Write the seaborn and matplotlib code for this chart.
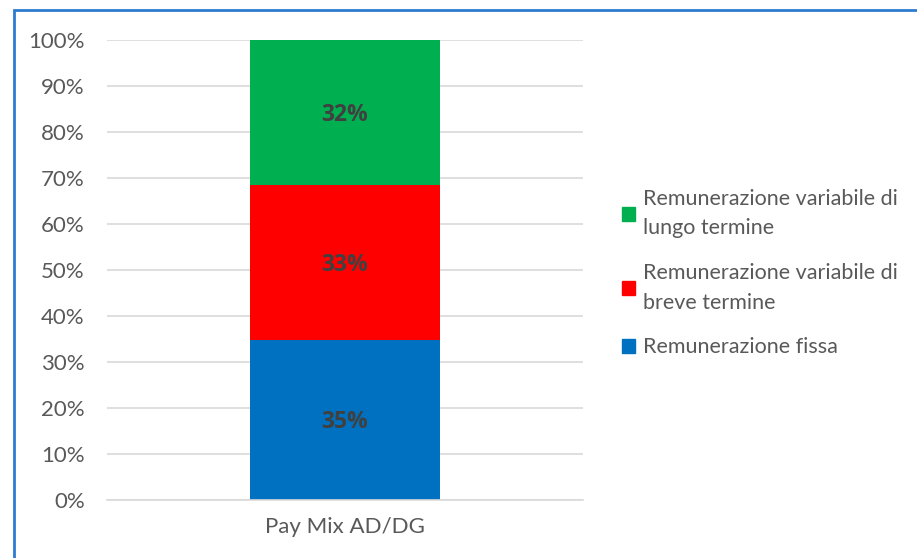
import matplotlib.pyplot as plt
import matplotlib.patches as mpatches
import pandas as pd
import seaborn as sns

# dati
category = "Pay Mix AD/DG"
components = ["Remunerazione fissa",
              "Remunerazione variabile di\nbreve termine",
              "Remunerazione variabile di\nlungo termine"]
shares = [34.8, 33.7, 31.5]
share_labels = ["35%", "33%", "32%"]
colors = ["#0070C0", "#FF0000", "#00B050"]
y_ticks = [0, 10, 20, 30, 40, 50, 60, 70, 80, 90, 100]

sns.set_style("white")
plt.rcParams['font.family'] = ['Lato', 'DejaVu Sans']

text_gray = "#595959"

fig = plt.figure(figsize=(9.17, 5.58), dpi=100)
ax = fig.add_axes([107 / 917, 58 / 558, 476 / 917, 460 / 558])

# altezze cumulate, si disegna dal segmento in alto verso il basso
cum = []
total = 0
for s in shares:
    total += s
    cum.append(total)

for i in reversed(range(len(shares))):
    df = pd.DataFrame({"cat": [category], "val": [cum[i]]})
    sns.barplot(data=df, x="cat", y="val", color=colors[i], width=0.4,
                saturation=1, linewidth=0, ax=ax, zorder=2)

# etichette dei segmenti
bottom = 0
for s, lab in zip(shares, share_labels):
    ax.text(0, bottom + s / 2 - 0.5, lab, ha='center', va='center',
            fontsize=16.5, fontweight='bold', color="#404040", zorder=3,
            family=['Open Sans', 'DejaVu Sans'])
    bottom += s

ax.set_ylim(0, 100)
ax.set_xlim(-0.5, 0.5)
ax.set_yticks(y_ticks)
ax.set_yticklabels([f"{t}%" for t in y_ticks])
ax.yaxis.grid(True, color="#D9D9D9", linewidth=1.2, zorder=0)
ax.set_axisbelow(True)
ax.set_xlabel("")
ax.set_ylabel("")
ax.tick_params(axis='both', length=0, labelsize=16, colors=text_gray)
ax.tick_params(axis='y', pad=16)
ax.tick_params(axis='x', pad=12)
for side in ['top', 'right', 'left']:
    ax.spines[side].set_visible(False)
ax.spines['bottom'].set_color("#D9D9D9")
ax.spines['bottom'].set_linewidth(1.2)

# legenda
handles = [mpatches.Patch(color=colors[i], label=components[i]) for i in [2, 1, 0]]
leg = fig.legend(handles=handles, loc='center left',
                 bbox_to_anchor=(603 / 917, 1 - 273 / 558), frameon=False,
                 fontsize=15.5, handlelength=0.6, handleheight=0.6,
                 handletextpad=0.35, labelspacing=1.15)
for t in leg.get_texts():
    t.set_color(text_gray)
    t.set_linespacing(1.6)

# cornice blu
frame = mpatches.Rectangle((14 / 917, -0.1), 1.2, 1 - 10 / 558 + 0.1,
                           transform=fig.transFigure, fill=False,
                           edgecolor="#2E7BD0", linewidth=2, clip_on=False)
fig.patches.append(frame)

fig.savefig("out.png", dpi=100)
